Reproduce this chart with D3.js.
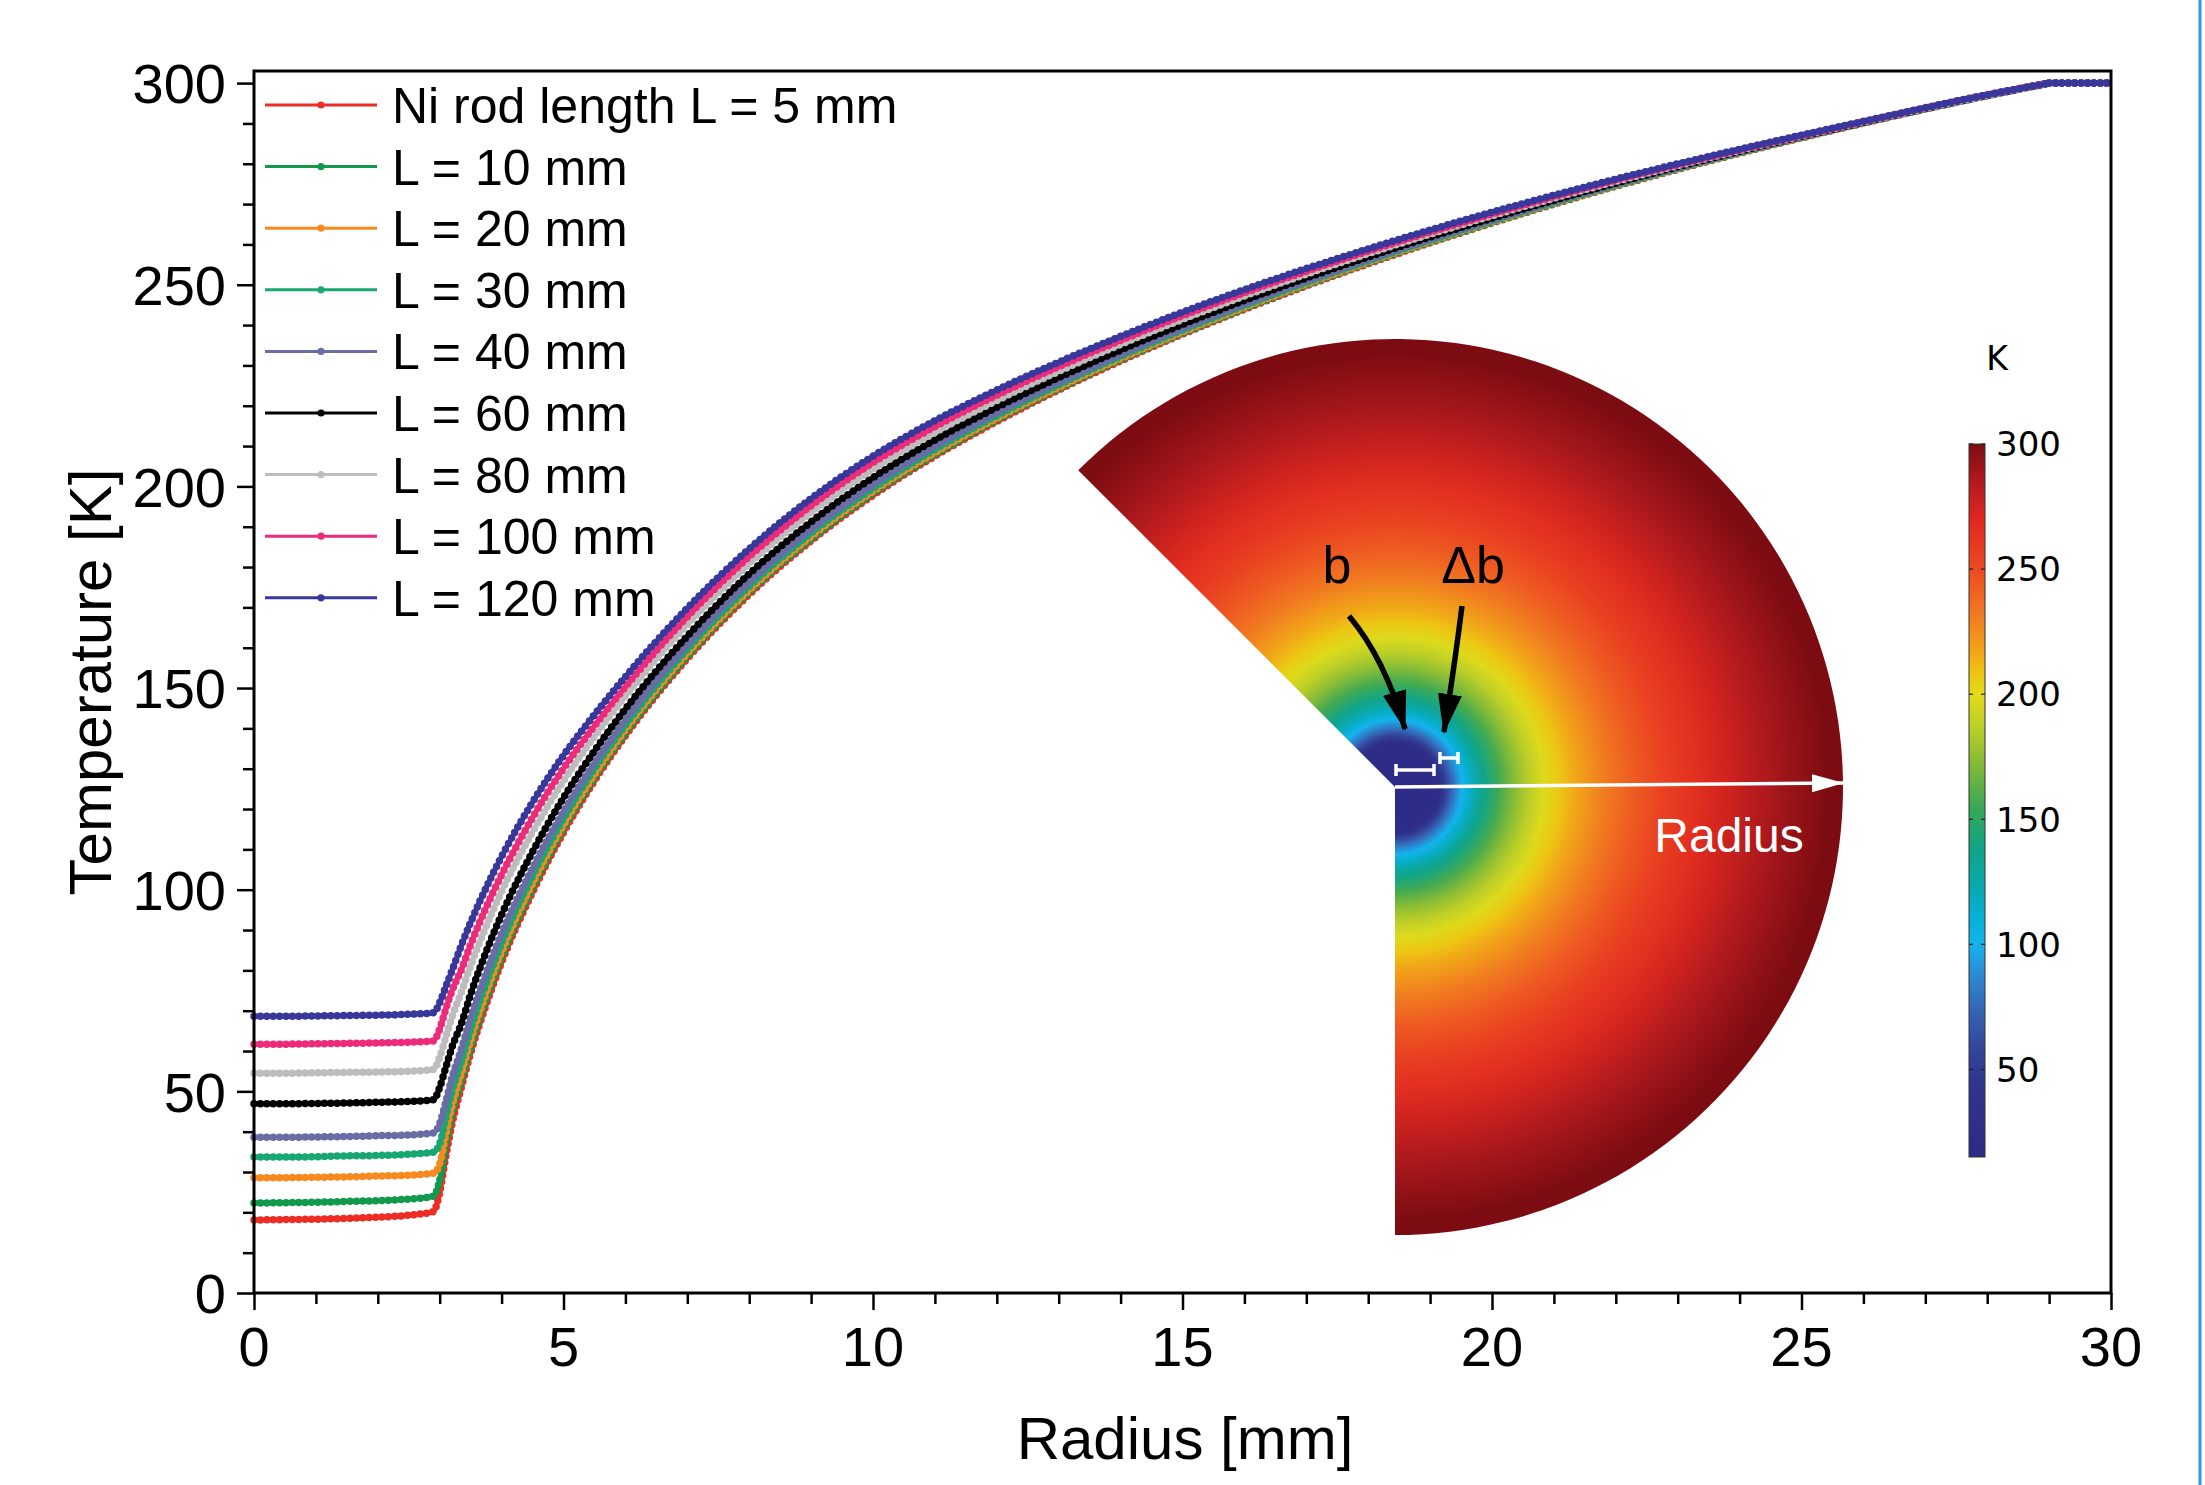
<!DOCTYPE html>
<html>
<head>
<meta charset="utf-8">
<script src="https://cdn.jsdelivr.net/npm/d3@7"></script>
<style>
  html, body { margin: 0; padding: 0; background: #fff; }
  #visualization { width: 2205px; height: 1485px; position: relative; }
  text { font-family: "Liberation Sans", Arial, sans-serif; }
</style>
</head>
<body>
<div id="visualization"></div>
<script>
// Radius grid shared by every series [mm]
const radius = [0, 0.5, 1, 1.5, 2, 2.5, 2.9, 3.0, 3.1, 3.2, 3.35, 3.5, 3.75, 4, 4.5, 5, 5.5, 6, 7, 8, 9, 10, 11, 12, 14, 16, 18, 20, 22, 24, 26, 28, 29, 29.5, 30];

// Temperature [K] per rod length
const tempL5 = [18.1, 18.2, 18.3, 18.5, 18.8, 19.3, 20.2, 25, 34, 42, 51, 59.5, 71.5, 82, 99.4, 114.2, 127.0, 138.2, 157.3, 173.2, 186.5, 197.8, 207.5, 216.1, 231.1, 243.9, 255.2, 265.3, 274.4, 282.6, 290.1, 296.9, 300, 300, 300];
const tempL10 = [22.3, 22.4, 22.5, 22.7, 22.9, 23.3, 24.0, 28, 37, 44.5, 52.8, 61.1, 73.0, 83.3, 100.5, 115.2, 127.8, 138.9, 157.9, 173.8, 187.0, 198.3, 207.9, 216.5, 231.4, 244.1, 255.4, 265.4, 274.5, 282.7, 290.1, 296.9, 300, 300, 300];
const tempL20 = [28.6, 28.6, 28.7, 28.8, 29.0, 29.2, 29.7, 32, 39.5, 46.5, 54.5, 62.7, 74.4, 84.6, 101.6, 116.1, 128.6, 139.7, 158.6, 174.3, 187.6, 198.8, 208.4, 216.9, 231.7, 244.4, 255.6, 265.6, 274.6, 282.7, 290.1, 296.9, 300, 300, 300];
const tempL30 = [33.7, 33.7, 33.8, 34.0, 34.1, 34.4, 34.9, 37, 43.5, 50, 57.3, 65.3, 76.7, 86.7, 103.4, 117.6, 130.0, 140.8, 159.6, 175.2, 188.4, 199.5, 209.1, 217.5, 232.2, 244.8, 255.9, 265.8, 274.7, 282.8, 290.2, 296.9, 300, 300, 300];
const tempL40 = [38.6, 38.6, 38.7, 38.8, 39.0, 39.2, 39.7, 42, 47.5, 53.5, 60.5, 68.2, 79.3, 89.1, 105.4, 119.4, 131.4, 142.1, 160.7, 176.3, 189.3, 200.4, 209.9, 218.2, 232.7, 245.2, 256.2, 266.0, 274.9, 282.9, 290.2, 296.9, 300, 300, 300];
const tempL60 = [46.9, 46.9, 47.0, 47.1, 47.3, 47.5, 47.9, 51, 56, 61, 66.8, 74.1, 84.6, 93.8, 109.4, 122.8, 134.4, 144.8, 162.9, 178.3, 191.2, 202.2, 211.5, 219.6, 233.8, 246.1, 256.9, 266.5, 275.2, 283.1, 290.3, 297.0, 300, 300, 300];
const tempL80 = [54.5, 54.5, 54.6, 54.7, 54.8, 55.0, 55.4, 58.5, 63.5, 68.5, 74.6, 81.2, 90.9, 99.6, 114.3, 127.0, 138.0, 148.0, 165.7, 180.8, 193.5, 204.3, 213.4, 221.3, 235.2, 247.2, 257.7, 267.1, 275.6, 283.3, 290.4, 297.0, 300, 300, 300];
const tempL100 = [61.7, 61.7, 61.8, 61.9, 62.0, 62.2, 62.5, 65.5, 70.5, 75, 80.2, 86.4, 95.6, 103.7, 117.9, 130.1, 140.6, 150.3, 167.7, 182.6, 195.2, 205.9, 214.8, 222.6, 236.2, 248.0, 258.3, 267.5, 275.9, 283.4, 290.4, 297.1, 300, 300, 300];
const tempL120 = [68.6, 68.6, 68.7, 68.8, 68.9, 69.1, 69.5, 72, 76, 80, 86.2, 91.9, 100.5, 108.2, 121.7, 133.3, 143.4, 152.8, 169.8, 184.5, 197, 207.5, 216.3, 223.9, 237.2, 248.8, 258.9, 268, 276.2, 283.6, 290.5, 297.1, 300, 300, 300];

const seriesNames = ['Ni rod length L = 5 mm', 'L = 10 mm', 'L = 20 mm', 'L = 30 mm', 'L = 40 mm', 'L = 60 mm', 'L = 80 mm', 'L = 100 mm', 'L = 120 mm'];
const seriesColors = ['#ec2c25', '#119a4c', '#f7891f', '#17a872', '#6a6ca6', '#000000', '#bdbdbd', '#ee2b7a', '#37379c'];
const seriesTemps = [tempL5, tempL10, tempL20, tempL30, tempL40, tempL60, tempL80, tempL100, tempL120];

// axis ticks
const xTicks = [0, 5, 10, 15, 20, 25, 30];
const yTicks = [0, 50, 100, 150, 200, 250, 300];

// colour bar of the inset [K]
const cbStops = [15, 45, 60, 75, 90, 100, 110, 125, 140, 155, 170, 185, 200, 210, 220, 235, 250, 270, 285, 300];
const cbColors = ['#2c2b86', '#30358e', '#34489e', '#3468b8', '#2a90d8', '#14b4ee', '#06b0d8', '#0aa8a8', '#12a582', '#3aa855', '#7ab83a', '#b6cc2a', '#e3dc1a', '#efc012', '#f39a1c', '#f07222', '#ec4a22', '#e0281f', '#b01a1e', '#7d0c12'];
const cbTicks = [50, 100, 150, 200, 250, 300];

const width = 2205;
const height = 1485;
const plot = { left: 254, right: 2111, top: 71, bottom: 1293 };

const svg = d3.select('#visualization')
  .append('svg')
  .attr('width', width)
  .attr('height', height);

svg.append('rect').attr('width', width).attr('height', height).attr('fill', '#fff');

const x = d3.scaleLinear().domain([0, 30]).range([plot.left, plot.right]);
const y = d3.scaleLinear().domain([0, 303]).range([plot.bottom, plot.top]);
const cmap = d3.scaleLinear().domain(cbStops).range(cbColors).clamp(true);

const defs = svg.append('defs');

// ---------- inset: temperature field in the disk sector ----------
const inset = { cx: 1395, cy: 787, R: 448 };
const rInset = d3.scaleLinear().domain([0, 30]).range([0, inset.R]);

const radial = defs.append('radialGradient')
  .attr('id', 'field')
  .attr('gradientUnits', 'userSpaceOnUse')
  .attr('cx', 0).attr('cy', 0).attr('r', inset.R);
radius.forEach((r, i) => {
  radial.append('stop')
    .attr('offset', r / 30)
    .attr('stop-color', cmap(tempL5[i]));
});

const insetG = svg.append('g')
  .attr('transform', `translate(${inset.cx},${inset.cy})`);

insetG.append('path')
  .attr('d', d3.arc()
    .innerRadius(0)
    .outerRadius(rInset(30))
    .startAngle(-Math.PI / 4)
    .endAngle(Math.PI)())
  .attr('fill', 'url(#field)');

// arrow heads
defs.append('marker')
  .attr('id', 'headBlack')
  .attr('markerUnits', 'userSpaceOnUse')
  .attr('viewBox', '0 0 40 24')
  .attr('refX', 38).attr('refY', 12)
  .attr('markerWidth', 40).attr('markerHeight', 24)
  .attr('orient', 'auto')
  .append('path')
  .attr('d', 'M0,0 L40,12 L0,24 Z')
  .attr('fill', '#000');

defs.append('marker')
  .attr('id', 'headWhite')
  .attr('markerUnits', 'userSpaceOnUse')
  .attr('viewBox', '0 0 32 18')
  .attr('refX', 31).attr('refY', 9)
  .attr('markerWidth', 32).attr('markerHeight', 18)
  .attr('orient', 'auto')
  .append('path')
  .attr('d', 'M0,0 L32,9 L0,18 Z')
  .attr('fill', '#fff');

// radius arrow
insetG.append('line')
  .attr('x1', 0).attr('y1', 0)
  .attr('x2', rInset(30)).attr('y2', -4)
  .attr('stroke', '#fff')
  .attr('stroke-width', 3.5)
  .attr('marker-end', 'url(#headWhite)');

insetG.append('text')
  .attr('x', 334).attr('y', 65)
  .attr('text-anchor', 'middle')
  .style('font-size', '48px')
  .style('fill', '#fff')
  .text('Radius');

// b and delta b brackets
function bracket(x1, x2, yy) {
  const g = insetG.append('g')
    .attr('stroke', '#fff')
    .attr('stroke-width', 3.5);
  g.append('line').attr('x1', x1).attr('x2', x2).attr('y1', yy).attr('y2', yy);
  g.append('line').attr('x1', x1).attr('x2', x1).attr('y1', yy - 6).attr('y2', yy + 6);
  g.append('line').attr('x1', x2).attr('x2', x2).attr('y1', yy - 6).attr('y2', yy + 6);
}
bracket(1, 39, -17);
bracket(45, 63, -29);

insetG.append('path')
  .attr('d', 'M-46,-171 Q-10,-128 10,-58')
  .attr('fill', 'none')
  .attr('stroke', '#000')
  .attr('stroke-width', 5.5)
  .attr('marker-end', 'url(#headBlack)');

insetG.append('path')
  .attr('d', 'M67,-181 Q60,-125 49,-55')
  .attr('fill', 'none')
  .attr('stroke', '#000')
  .attr('stroke-width', 5.5)
  .attr('marker-end', 'url(#headBlack)');

insetG.append('text')
  .attr('x', -58).attr('y', -204)
  .attr('text-anchor', 'middle')
  .style('font-size', '52px')
  .text('b');

insetG.append('text')
  .attr('x', 78).attr('y', -204)
  .attr('text-anchor', 'middle')
  .style('font-size', '52px')
  .text('\u0394b');

// ---------- colour bar ----------
const cb = { x: 1969, w: 16 };
const cbY = d3.scaleLinear().domain([15, 300]).range([1157, 444]);

const lin = defs.append('linearGradient')
  .attr('id', 'cbar')
  .attr('x1', 0).attr('y1', 1).attr('x2', 0).attr('y2', 0);
cbStops.forEach((v, i) => {
  lin.append('stop')
    .attr('offset', (v - 15) / 285)
    .attr('stop-color', cbColors[i]);
});

svg.append('rect')
  .attr('x', cb.x).attr('y', cbY(300))
  .attr('width', cb.w).attr('height', cbY(15) - cbY(300))
  .attr('fill', 'url(#cbar)')
  .attr('stroke', '#333')
  .attr('stroke-width', 1);

cbTicks.forEach(v => {
  svg.append('line')
    .attr('x1', cb.x).attr('x2', cb.x + 4)
    .attr('y1', cbY(v)).attr('y2', cbY(v))
    .attr('stroke', '#222').attr('stroke-width', 1.2);
  svg.append('line')
    .attr('x1', cb.x + cb.w - 4).attr('x2', cb.x + cb.w)
    .attr('y1', cbY(v)).attr('y2', cbY(v))
    .attr('stroke', '#222').attr('stroke-width', 1.2);
  svg.append('text')
    .attr('x', 1996).attr('y', cbY(v))
    .attr('dy', '0.36em')
    .style('font-family', '"DejaVu Sans", sans-serif')
    .style('font-size', '34px')
    .text(v);
});

svg.append('text')
  .attr('x', 1997).attr('y', 370)
  .attr('text-anchor', 'middle')
  .style('font-family', '"DejaVu Sans", sans-serif')
  .style('font-size', '33px')
  .text('K');

// ---------- data lines ----------
// smooth up to 29 mm, then the flat tail is straight
const smooth = d3.line()
  .x(d => x(d[0]))
  .y(d => y(d[1]))
  .curve(d3.curveMonotoneX);
const straight = d3.line()
  .x(d => x(d[0]))
  .y(d => y(d[1]));

seriesTemps.forEach((temps, s) => {
  const pts = radius.map((r, i) => [r, temps[i]]);
  const cut = radius.indexOf(29);
  const d = smooth(pts.slice(0, cut + 1)) + straight(pts.slice(cut));
  const g = svg.append('g');
  g.append('path')
    .attr('d', d)
    .attr('fill', 'none')
    .attr('stroke', seriesColors[s])
    .attr('stroke-width', 5);
  // dense symbols along the line
  g.append('path')
    .attr('d', d)
    .attr('fill', 'none')
    .attr('stroke', seriesColors[s])
    .attr('stroke-width', 7.5)
    .attr('stroke-linecap', 'round')
    .attr('stroke-dasharray', '0 6.4');
});

// ---------- axes and frame ----------
svg.append('rect')
  .attr('x', plot.left).attr('y', plot.top)
  .attr('width', plot.right - plot.left)
  .attr('height', plot.bottom - plot.top)
  .attr('fill', 'none')
  .attr('stroke', '#000')
  .attr('stroke-width', 3);

const xAxis = svg.append('g')
  .attr('transform', `translate(0,${plot.bottom})`)
  .call(d3.axisBottom(x).tickValues(d3.range(0, 31, 1)).tickSize(11).tickFormat(''));
xAxis.select('.domain').remove();
xAxis.selectAll('.tick line')
  .attr('stroke-width', 2.5)
  .attr('y2', d => xTicks.includes(d) ? 17 : 11);

xTicks.forEach(v => {
  svg.append('text')
    .attr('x', x(v)).attr('y', 1366)
    .attr('text-anchor', 'middle')
    .style('font-size', '56px')
    .text(v);
});

const yAxis = svg.append('g')
  .attr('transform', `translate(${plot.left},0)`)
  .call(d3.axisLeft(y).tickValues(d3.range(0, 301, 10)).tickSize(11).tickFormat(''));
yAxis.select('.domain').remove();
yAxis.selectAll('.tick line')
  .attr('stroke-width', 2.5)
  .attr('x2', d => yTicks.includes(d) ? -17 : -11);

yTicks.forEach(v => {
  svg.append('text')
    .attr('x', 226).attr('y', y(v))
    .attr('dy', '0.36em')
    .attr('text-anchor', 'end')
    .style('font-size', '56px')
    .text(v);
});

svg.append('text')
  .attr('transform', `translate(111,682) rotate(-90)`)
  .attr('text-anchor', 'middle')
  .style('font-size', '60px')
  .text('Temperature [K]');

svg.append('text')
  .attr('x', 1185).attr('y', 1459)
  .attr('text-anchor', 'middle')
  .style('font-size', '60px')
  .text('Radius [mm]');

// ---------- legend ----------
const legend = svg.append('g')
  .attr('transform', 'translate(265,105)');

seriesNames.forEach((name, i) => {
  const row = legend.append('g')
    .attr('transform', `translate(0, ${i * 61.6})`);
  row.append('line')
    .attr('x1', 0).attr('x2', 112)
    .attr('stroke', seriesColors[i])
    .attr('stroke-width', 3);
  row.append('circle')
    .attr('cx', 56).attr('r', 3.6)
    .attr('fill', seriesColors[i]);
  row.append('text')
    .attr('x', 127)
    .attr('dy', '0.36em')
    .style('font-size', '50px')
    .text(name);
});

// page edge line at the right
svg.append('line')
  .attr('x1', 2200).attr('x2', 2200)
  .attr('y1', 0).attr('y2', height)
  .attr('stroke', '#3a95dd')
  .attr('stroke-width', 3);
</script>
</body>
</html>
